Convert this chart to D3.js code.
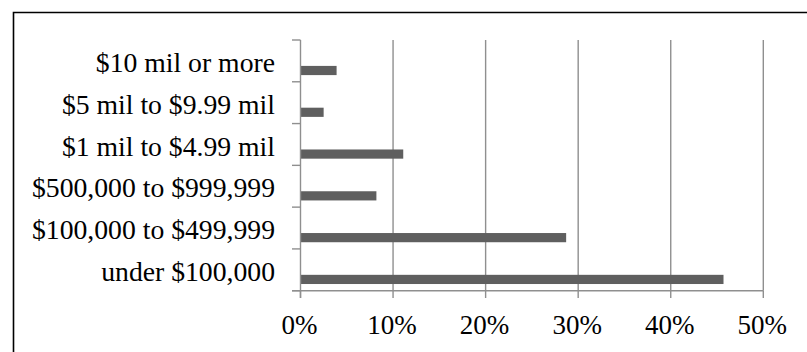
<!DOCTYPE html>
<html>
<head>
<meta charset="utf-8">
<script src="https://cdn.jsdelivr.net/npm/d3@7"></script>
<style>
  html, body { margin: 0; padding: 0; background: #fff; }
  svg { display: block; }
  text { font-family: "Liberation Serif", "Times New Roman", serif; fill: #000; }
</style>
</head>
<body>
<svg id="chart" width="807" height="352"></svg>
<script>
// Share of respondents by size bracket (top to bottom as displayed)
const categories = [
  "$10 mil or more",
  "$5 mil to $9.99 mil",
  "$1 mil to $4.99 mil",
  "$500,000 to $999,999",
  "$100,000 to $499,999",
  "under $100,000"
];
const shares = [3.9, 2.5, 11.1, 8.2, 28.7, 45.7];
const xTicks = [0, 10, 20, 30, 40, 50];

const svg = d3.select("#chart");
const gridColor = "#8f8f8f";

// Outer frame (open to the right and bottom)
svg.append("path")
  .attr("d", "M13.5,360 L13.5,12.5 L815,12.5")
  .attr("fill", "none")
  .attr("stroke", "#000")
  .attr("stroke-width", 1.6);

const x = d3.scaleLinear().domain([0, 50]).range([300.5, 763.3]);
const y = d3.scaleBand().domain(categories).range([40, 290.7]).padding(0);
const bw = y.bandwidth();

// Vertical gridlines
svg.append("g").selectAll("line")
  .data(xTicks.filter(d => d > 0))
  .join("line")
  .attr("x1", d => x(d)).attr("x2", d => x(d))
  .attr("y1", 40).attr("y2", 290.7)
  .attr("stroke", gridColor).attr("stroke-width", 1.4);

// Bars
svg.append("g").selectAll("rect")
  .data(categories.map((c, i) => ({ c, v: shares[i] })))
  .join("rect")
  .attr("x", x(0))
  .attr("y", d => y(d.c) + bw * 0.62)
  .attr("width", d => x(d.v) - x(0))
  .attr("height", bw * 0.22)
  .attr("fill", "#5f5f5f");

// Category axis with ticks at band boundaries
const yAxis = svg.append("g");
yAxis.append("line")
  .attr("x1", x(0)).attr("x2", x(0))
  .attr("y1", 40).attr("y2", 298)
  .attr("stroke", gridColor).attr("stroke-width", 1.4);
yAxis.selectAll("line.tick")
  .data(d3.range(categories.length + 1))
  .join("line")
  .attr("class", "tick")
  .attr("x1", 292).attr("x2", x(0))
  .attr("y1", i => 40 + i * bw).attr("y2", i => 40 + i * bw)
  .attr("stroke", gridColor).attr("stroke-width", 1.4);
yAxis.selectAll("text")
  .data(categories)
  .join("text")
  .attr("x", 275)
  .attr("y", d => y(d) + bw / 2)
  .attr("dy", "0.4em")
  .attr("text-anchor", "end")
  .attr("font-size", 27.7)
  .text(d => d);

// Value axis along the bottom
const xAxis = svg.append("g");
xAxis.selectAll("line.tick")
  .data(xTicks)
  .join("line")
  .attr("class", "tick")
  .attr("x1", d => x(d)).attr("x2", d => x(d))
  .attr("y1", 290.7).attr("y2", 298)
  .attr("stroke", gridColor).attr("stroke-width", 1.4);
xAxis.append("line")
  .attr("x1", 292).attr("x2", x(50))
  .attr("y1", 290.7).attr("y2", 290.7)
  .attr("stroke", gridColor).attr("stroke-width", 1.4);
xAxis.selectAll("text")
  .data(xTicks)
  .join("text")
  .attr("x", d => x(d) - 1)
  .attr("y", 334)
  .attr("text-anchor", "middle")
  .attr("font-size", 27)
  .text(d => d + "%");
</script>
</body>
</html>
